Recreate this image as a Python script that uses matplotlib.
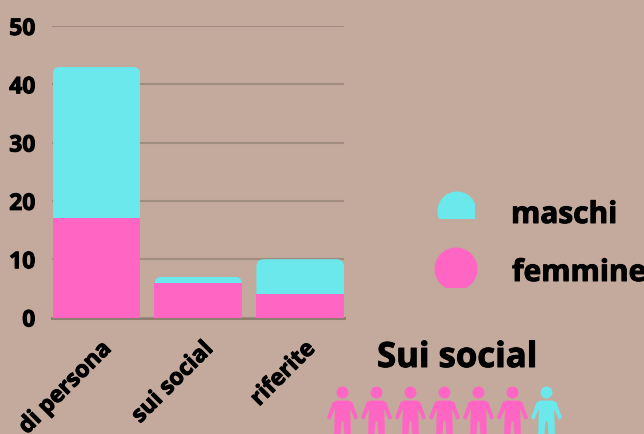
import numpy as np
import matplotlib
matplotlib.use("Agg")
import matplotlib.pyplot as plt
import matplotlib.patheffects as pe
from matplotlib.patches import FancyBboxPatch, Circle, Rectangle, PathPatch
from matplotlib.path import Path
from matplotlib.transforms import Affine2D

categories = ["di persona", "sui social", "riferite"]
femmine = [17, 6, 4]
maschi = [26, 1, 6]
yticks = [0, 10, 20, 30, 40, 50]
series_names = ["maschi", "femmine"]
title_right = "Sui social"
icon_female = 6
icon_male = 1

BG = "#c3aa9c"
CYAN = "#6ae8eb"
PINK = "#ff66c4"
GRID = "#a08d7f"
FONT = "Open Sans"
heavy = [pe.withStroke(linewidth=0.7, foreground="black")]

W, H = 644, 434
fig = plt.figure(figsize=(W / 100, H / 100), dpi=100, facecolor=BG)

x0, x1, ytop, ybot = 52, 344, 26, 317.5
ax = fig.add_axes([x0 / W, 1 - ybot / H, (x1 - x0) / W, (ybot - ytop) / H])
ax.set_facecolor("none")
ax.set_xlim(-0.436, 2.43)
ax.set_ylim(0, 50)
for s in ax.spines.values():
    s.set_visible(False)
ax.set_yticks(yticks)
ax.set_yticklabels([str(v) for v in yticks], fontsize=16.5, fontweight="bold", family=FONT,
                   path_effects=heavy)
ax.grid(axis="y", color=GRID, lw=1.5, zorder=0)
ax.axhline(0, color="#8f7d70", lw=2.2, zorder=0.5, clip_on=False)
ax.tick_params(axis="y", length=0, pad=12)
ax.tick_params(axis="x", length=0, pad=4)
ax.set_xticks(range(len(categories)))
ax.set_xticklabels(categories, rotation=45, ha="right", rotation_mode="anchor",
                   fontsize=16.5, fontweight="bold", family=FONT, path_effects=heavy)
for lab in ax.get_xticklabels():
    lab.set_transform(lab.get_transform() + Affine2D().translate(3, -14))
    lab.set_clip_on(False)

xs = np.arange(len(categories))
fem = np.array(femmine)
mas = np.array(maschi)
tops = ax.bar(xs, mas, 0.86, bottom=fem, color=CYAN, zorder=2)
bottoms = ax.bar(xs, fem, 0.86, color=PINK, zorder=3, clip_on=False)

# rounded upper corners: clip each bar to a rounded box of the same geometry
px_x = (x1 - x0) / (ax.get_xlim()[1] - ax.get_xlim()[0])
px_y = (ybot - ytop) / 50
aspect = px_x / px_y
r_data = 0.075
for b in tops:
    rb = FancyBboxPatch((b.get_x() + r_data, r_data * aspect),
                        b.get_width() - 2 * r_data,
                        b.get_y() + b.get_height() - 2 * r_data * aspect,
                        boxstyle=f"round,pad={r_data},rounding_size={r_data}",
                        mutation_aspect=aspect, transform=ax.transData, fc="none", ec="none")
    ax.add_patch(rb)
    b.set_clip_path(rb)
b = bottoms[1]
rb = FancyBboxPatch((b.get_x() + r_data, 0), b.get_width() - 2 * r_data,
                    b.get_height() - r_data * aspect,
                    boxstyle=f"round,pad={r_data},rounding_size={r_data}",
                    mutation_aspect=aspect, transform=ax.transData, fc="none", ec="none")
ax.add_patch(rb)
b.set_clip_path(rb)

# overlay in pixel coordinates for the legend and the pictogram
ov = fig.add_axes([0, 0, 1, 1])
ov.set_xlim(0, W)
ov.set_ylim(H, 0)
ov.axis("off")
ov.patch.set_alpha(0)

c1 = Circle((457, 211), 19.5, fc=CYAN, ec="none")
ov.add_patch(c1)
c1.set_clip_path(Rectangle((430, 185), 45, 33.5, transform=ov.transData))
c2 = Circle((456, 269), 21.5, fc=PINK, ec="none")
ov.add_patch(c2)
c2.set_clip_path(Rectangle((430, 240), 60, 47.5, transform=ov.transData))

ov.text(511, 215, series_names[0], fontsize=21.5, fontweight="bold", family=FONT, va="center", ha="left",
        color="black", path_effects=heavy)
ov.text(512, 273, series_names[1], fontsize=21.5, fontweight="bold", family=FONT, va="center", ha="left",
        color="black", path_effects=heavy)
ov.text(377, 358, title_right, fontsize=25, fontweight="bold", family=FONT, va="center", ha="left",
        color="black", path_effects=heavy)

# person glyph centred on x=0, head centre at y=0, in pixels
body = [(-6, 8), (6, 8), (10, 10), (15.5, 25.5), (12.5, 27.5), (7.5, 16.5),
        (8, 27), (8.5, 48), (2.5, 48), (1, 29), (-1, 29), (-2.5, 48), (-8.5, 48),
        (-8, 27), (-7.5, 16.5), (-12.5, 27.5), (-15.5, 25.5), (-10, 10), (-6, 8)]
body_path = Path(body, [Path.MOVETO] + [Path.LINETO] * (len(body) - 2) + [Path.CLOSEPOLY])
colors = [PINK] * icon_female + [CYAN] * icon_male
for i, col in enumerate(colors):
    cx, cy = 342.5 + 34 * i, 392.5
    ov.add_patch(Circle((cx, cy), 6, fc=col, ec="none"))
    ov.add_patch(PathPatch(body_path.transformed(Affine2D().translate(cx, cy)), fc=col, ec="none"))

fig.savefig("out.png", dpi=100, facecolor=BG)
